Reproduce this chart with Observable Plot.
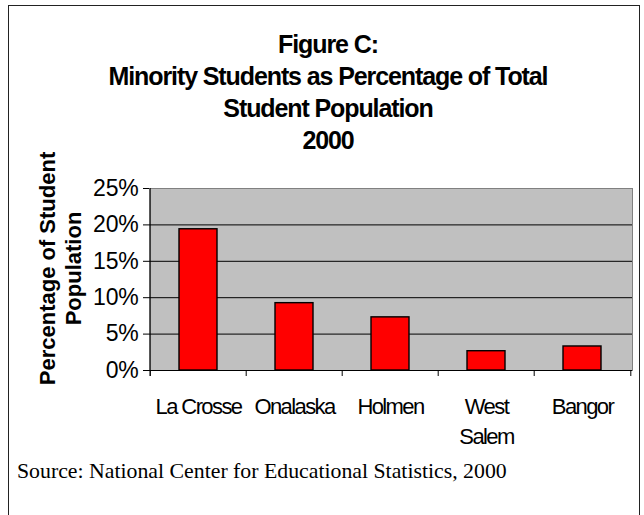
<!DOCTYPE html>
<html><head><meta charset="utf-8">
<script src="https://cdn.jsdelivr.net/npm/d3@7"></script>
<script src="https://cdn.jsdelivr.net/npm/@observablehq/plot@0.6"></script>
<style>
body{margin:0;background:#fff;}
#page{position:relative;width:644px;height:515px;overflow:hidden;background:#fff;}
#border{position:absolute;left:8px;top:5px;width:630px;height:600px;border:1px solid #222;}
#title{position:absolute;left:0;width:656px;top:28px;text-align:center;font:bold 25px/32px "Liberation Sans",Arial,sans-serif;letter-spacing:-1.1px;color:#000;}
#chart{position:absolute;left:0;top:170px;}
#source{position:absolute;left:17px;top:459px;font:21.8px/24px "Liberation Serif","Times New Roman",serif;color:#000;white-space:nowrap;}
.fig g[aria-label="x-axis tick label"] text{letter-spacing:-1.6px}
.fig g[aria-label="y-axis tick label"] text{letter-spacing:-0.2px}
.fig g[aria-label="text"] text{letter-spacing:0}
</style></head>
<body>
<div id="page">
  <div id="border"></div>
  <div id="title"></div>
  <div id="chart"></div>
  <div id="source"></div>
</div>
<script>
const titleLines = ["Figure C:", "Minority Students as Percentage of Total", "Student Population", "2000"];
const categories = ["La Crosse", "Onalaska", "Holmen", "West Salem", "Bangor"];
const tickLabels = ["La Crosse", "Onalaska", "Holmen", "West\nSalem", "Bangor"];
const values = [19.4, 9.25, 7.3, 2.65, 3.3];
const yTicks = [0, 5, 10, 15, 20, 25];
const gridValues = [5, 10, 15, 20];
const yTitle = "Percentage of Student\nPopulation";
const sourceText = "Source: National Center for Educational Statistics, 2000";

document.getElementById("title").innerHTML = titleLines.map(t => `<div>${t}</div>`).join("");
document.getElementById("source").textContent = sourceText;

const data = categories.map((c, i) => ({cat: c, value: values[i]}));

const W = 644, H = 300, mL = 149, mR = 12, mT = 18, mB = 100;
const frameH = H - mT - mB;
const step = (W - mL - mR) / categories.length;

const plot = Plot.plot({
  width: W, height: H,
  marginLeft: mL, marginRight: mR, marginTop: mT, marginBottom: mB,
  className: "fig",
  style: {fontFamily: '"Liberation Sans", Arial, sans-serif', fontSize: "22px", color: "#000", background: "transparent", overflow: "visible"},
  x: {domain: categories, paddingInner: 0.6, paddingOuter: 0.3, label: null},
  y: {domain: [0, 25], label: null},
  marks: [
    Plot.frame({fill: "#C0C0C0", stroke: "#808080"}),
    Plot.ruleY(gridValues, {stroke: "#000", strokeWidth: 1}),
    Plot.barY(data, {x: "cat", y: "value", fill: "#FF0000", stroke: "#000", strokeWidth: 1.4}),
    Plot.ruleY([0], {stroke: "#000"}),
    Plot.ruleX([categories[0]], {stroke: "#000", dx: -step / 2, insetBottom: -6}),
    Plot.ruleX(categories, {stroke: "#000", dx: -step / 2, insetTop: frameH, insetBottom: -6}),
    Plot.ruleX([categories[categories.length - 1]], {stroke: "#000", dx: step / 2, insetTop: frameH, insetBottom: -6}),
    Plot.axisY({ticks: yTicks, tickFormat: d => d + "%", tickSize: 6, tickPadding: 5, fontSize: 23, label: null}),
    Plot.axisX({tickSize: 0, tickPadding: 22, tickFormat: d => tickLabels[categories.indexOf(d)], fontSize: 22, lineHeight: 1.36, label: null}),
    Plot.text([yTitle], {text: d => d, frameAnchor: "left", textAnchor: "middle", rotate: -90, dx: -90, dy: -11, fontSize: 22, fontWeight: "bold", lineHeight: 1.2})
  ]
});
document.getElementById("chart").appendChild(plot);
</script>
</body></html>
